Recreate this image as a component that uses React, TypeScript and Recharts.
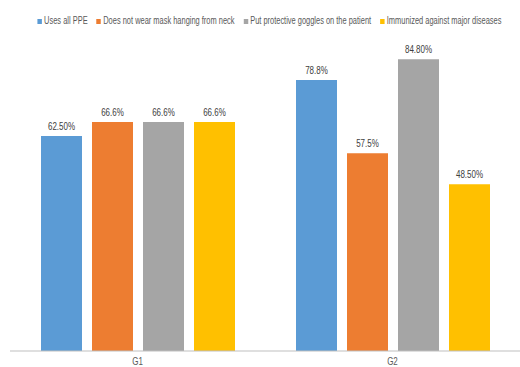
import React from "react";
import { BarChart, Bar, XAxis, YAxis, Legend, LabelList } from "recharts";

const categories = ["G1", "G2"];
const seriesNames = [
  "Uses all PPE",
  "Does not wear mask hanging from neck",
  "Put protective goggles on the patient",
  "Immunized against major diseases",
];
const usesAllPPE = [62.5, 78.8];
const noMaskNeck = [66.6, 57.5];
const goggles = [66.6, 84.8];
const immunized = [66.6, 48.5];
const usesAllPPELabels = ["62.50%", "78.8%"];
const noMaskNeckLabels = ["66.6%", "57.5%"];
const gogglesLabels = ["66.6%", "84.80%"];
const immunizedLabels = ["66.6%", "48.50%"];

const colors = ["#5b9bd5", "#ed7d31", "#a5a5a5", "#ffc000"];
const font = "'Liberation Sans', Arial, sans-serif";

const data = categories.map((c, i) => ({
  name: c,
  s0: usesAllPPE[i],
  s1: noMaskNeck[i],
  s2: goggles[i],
  s3: immunized[i],
  l0: usesAllPPELabels[i],
  l1: noMaskNeckLabels[i],
  l2: gogglesLabels[i],
  l3: immunizedLabels[i],
}));

const LegendContent = () => (
  <div style={{ position: "relative", height: 0, width: 520 }}>
    <div
      style={{
        position: "absolute",
        top: 15,
        left: 9,
        width: 520,
        display: "flex",
        justifyContent: "center",
        fontFamily: font,
        fontSize: 10,
        lineHeight: "12px",
        color: "#595959",
        whiteSpace: "nowrap",
      }}
    >
      <div style={{ display: "flex", transform: "scaleX(0.745)", transformOrigin: "center" }}>
        {seriesNames.map((n, k) => (
          <div key={n} style={{ display: "flex", alignItems: "center", marginRight: k < 3 ? 12 : 0 }}>
            <span style={{ display: "inline-block", width: 6, height: 5, background: colors[k], marginRight: 3 }} />
            <span>{n}</span>
          </div>
        ))}
      </div>
    </div>
  </div>
);

const makeLabel = (props: any) => {
  const { x, y, width, value } = props;
  const cx = Number(x) + Number(width) / 2;
  return (
    <text
      x={cx}
      y={Number(y) - 6}
      textAnchor="middle"
      fontSize={10}
      fill="#404040"
      fontFamily={font}
      style={{ transformBox: "fill-box", transformOrigin: "center", transform: "scaleX(0.8)" }}
    >
      {value}
    </text>
  );
};

const AxisTick = (props: any) => {
  const { x, y, payload } = props;
  return (
    <text
      x={x}
      y={Number(y) + 6}
      textAnchor="middle"
      fontSize={10}
      fill="#595959"
      fontFamily={font}
      style={{ transformBox: "fill-box", transformOrigin: "center", transform: "scaleX(0.8)" }}
    >
      {payload.value}
    </text>
  );
};

export default function App() {
  return (
    <div style={{ position: "absolute", left: 0, top: 0, width: 520, height: 367, background: "#fff" }}>
      <BarChart
        width={520}
        height={367}
        data={data}
        margin={{ top: 7, right: 0, left: 10, bottom: 0 }}
        barGap={10}
        barCategoryGap={30}
      >
        <XAxis
          dataKey="name"
          axisLine={{ stroke: "#bfbfbf" }}
          tickLine={false}
          tick={<AxisTick />}
          height={16}
        />
        <YAxis hide domain={[0, 100]} />
        <Legend
          verticalAlign="top"
          align="center"
          content={<LegendContent />}
          wrapperStyle={{ top: 0, left: 0, height: 0 }}
        />
        {[0, 1, 2, 3].map((k) => (
          <Bar
            key={k}
            dataKey={`s${k}`}
            name={seriesNames[k]}
            fill={colors[k]}
            barSize={41}
            isAnimationActive={false}
          >
            <LabelList dataKey={`l${k}`} content={makeLabel} />
          </Bar>
        ))}
      </BarChart>
    </div>
  );
}
